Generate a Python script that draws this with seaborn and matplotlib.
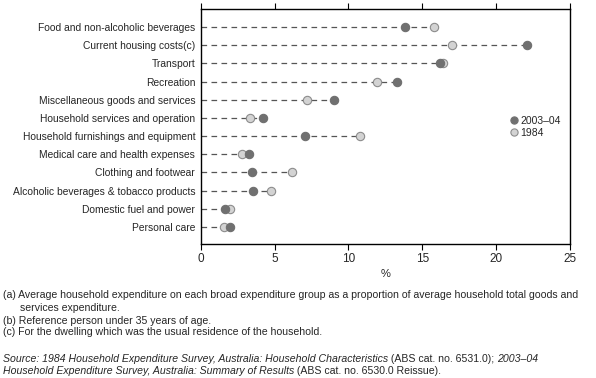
import matplotlib
matplotlib.use("Agg")
import matplotlib.pyplot as plt
import seaborn as sns
import pandas as pd
import numpy as np
from matplotlib.lines import Line2D

categories = [
    "Food and non-alcoholic beverages",
    "Current housing costs(c)",
    "Transport",
    "Recreation",
    "Miscellaneous goods and services",
    "Household services and operation",
    "Household furnishings and equipment",
    "Medical care and health expenses",
    "Clothing and footwear",
    "Alcoholic beverages & tobacco products",
    "Domestic fuel and power",
    "Personal care",
]
values_2003 = [13.8, 22.1, 16.2, 13.3, 9.0, 4.2, 7.05, 3.3, 3.5, 3.55, 1.65, 1.95]
values_1984 = [15.8, 17.0, 16.4, 11.9, 7.2, 3.35, 10.8, 2.8, 6.2, 4.75, 2.0, 1.6]
xticks = [0, 5, 10, 15, 20, 25]

sns.set_theme(style="white")
plt.rcParams['font.family'] = ['Liberation Sans', 'DejaVu Sans']

df = pd.DataFrame({
    "category": categories * 2,
    "value": values_1984 + values_2003,
    "series": ["1984"] * len(categories) + ["2003–04"] * len(categories),
})

fig = plt.figure(figsize=(5.96, 3.78), dpi=100)
ax = fig.add_axes([0.3368, 0.3537, 0.9564 - 0.3368, 0.9754 - 0.3537])

ypos = np.arange(len(categories))
maxv = np.maximum(values_2003, values_1984)
ax.hlines(ypos, 0, maxv, colors="#555555", linestyles=(0, (4.5, 3.5)), linewidth=0.9, zorder=1)

palette = {"1984": "#d3d3d3", "2003–04": "#707070"}
edges = {"1984": "#8c8c8c", "2003–04": "#707070"}
for s in ["1984", "2003–04"]:
    sub = df[df.series == s]
    sns.scatterplot(data=sub, x="value", y="category", ax=ax, color=palette[s],
                    edgecolor=edges[s], linewidth=0.8, s=36, zorder=3, legend=False)

ax.set_xlim(0, 25)
ax.set_ylim(11.95, -0.97)
ax.set_xticks(xticks)
ax.set_xticklabels([str(t) for t in xticks])
ax.set_xlabel("%", fontsize=8, labelpad=3)
ax.set_ylabel("")
ax.tick_params(axis="y", length=0, labelsize=7.4, pad=4)
ax.tick_params(axis="x", which="both", top=True, bottom=True, direction="out",
               length=4, width=0.8, color="black", labelsize=8.5, pad=2)
for sp in ax.spines.values():
    sp.set_color("black")
    sp.set_linewidth(1.0)

handles = [
    Line2D([], [], marker="o", linestyle="", markersize=5.2, markerfacecolor=palette["2003–04"],
           markeredgecolor=edges["2003–04"], markeredgewidth=0.8, label="2003–04"),
    Line2D([], [], marker="o", linestyle="", markersize=5.2, markerfacecolor=palette["1984"],
           markeredgecolor=edges["1984"], markeredgewidth=0.8, label="1984"),
]
ax.legend(handles=handles, loc="center left", bbox_to_anchor=(0.82, 0.5), frameon=False,
          fontsize=7.5, handletextpad=0.1, labelspacing=0.2, borderpad=0, handlelength=1.0)

fs = 7.6
def fy(py):
    return 1 - py / 378
fig.text(2.7 / 596, fy(295), "(a) Average household expenditure on each broad expenditure group as a proportion of average household total goods and",
         fontsize=fs, va="center")
fig.text(20 / 596, fy(308), "services expenditure.", fontsize=fs, va="center")
fig.text(2.7 / 596, fy(320.7), "(b) Reference person under 35 years of age.", fontsize=fs, va="center")
fig.text(2.7 / 596, fy(332), "(c) For the dwelling which was the usual residence of the household.", fontsize=fs, va="center")

renderer = fig.canvas.get_renderer()
def rich_line(parts, x0, py):
    x = x0
    for txt, style in parts:
        t = fig.text(x, fy(py), txt, fontsize=fs, style=style, va="center")
        bb = t.get_window_extent(renderer=renderer)
        x = x + bb.width / fig.bbox.width

rich_line([("Source: 1984 Household Expenditure Survey, Australia: Household Characteristics", "italic"),
           ("\u00a0(ABS cat. no. 6531.0);\u00a0", "normal"),
           ("2003–04", "italic")], 2.7 / 596, 359.3)
rich_line([("Household Expenditure Survey, Australia: Summary of Results", "italic"),
           ("\u00a0(ABS cat. no. 6530.0 Reissue).", "normal")], 2.7 / 596, 370.5)

fig.savefig("out.png", dpi=100)
